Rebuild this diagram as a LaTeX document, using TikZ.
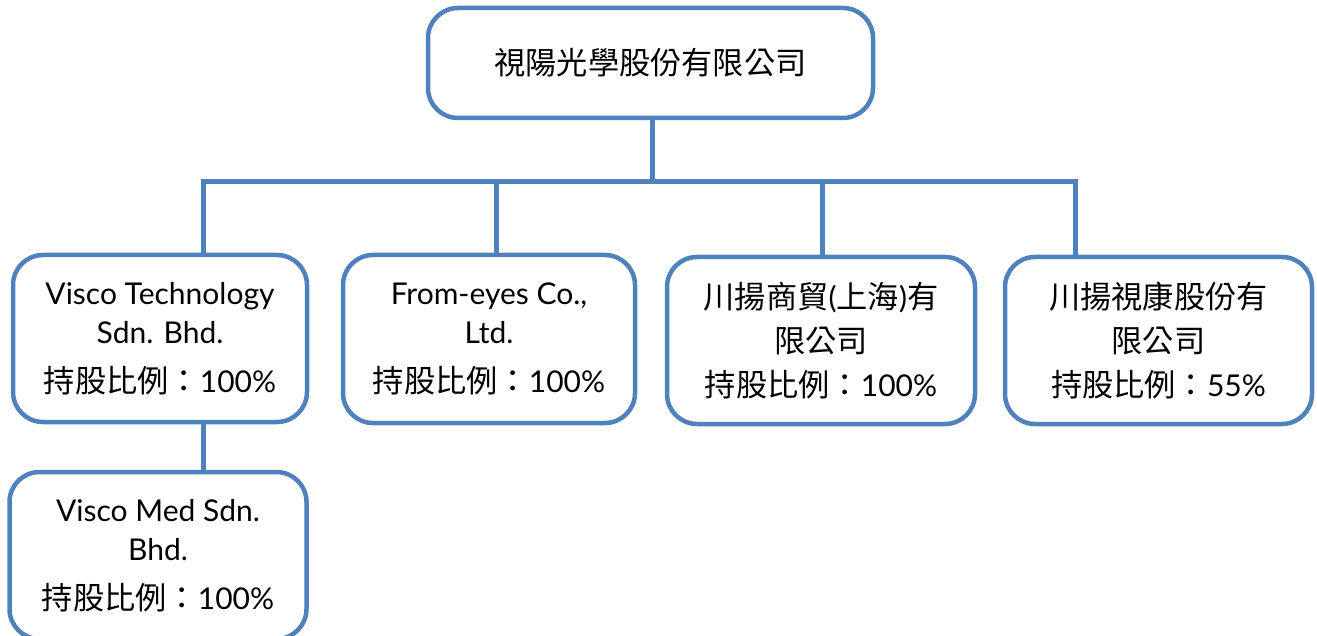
\documentclass[tikz,border=0pt]{standalone}
\usepackage{fontspec}
\setmainfont{Lato}
\newfontfamily\cjk{Noto Sans CJK TC}[Scale=1.04]
\usetikzlibrary{positioning}
\definecolor{orgblue}{RGB}{79,129,189}

\begin{document}
\begin{tikzpicture}[x=1pt,y=-1pt,
    company/.style={draw=orgblue,line width=4.5pt,rounded corners=30pt,fill=white,
      minimum width=294pt,minimum height=167pt,align=center,
      font=\fontsize{30}{39}\selectfont},
    link/.style={draw=orgblue,line width=5pt}]
    \useasboundingbox (0,0) rectangle (1317,636);
    \node (parent) at (650.5,63) [company,minimum width=445pt,minimum height=110pt] {\cjk 視陽光學股份有限公司};
    \node (visco) at (160,338.5) [company] {Visco Technology\\Sdn. Bhd.\\[10pt]{\cjk 持股比例：}100\%};
    \node (fromeyes) at (489,339) [company,minimum width=292pt,minimum height=168pt] {From-eyes Co.,\\Ltd.\\[10pt]{\cjk 持股比例：}100\%};
    \node (chuanyang) at (821,340.5) [company,minimum width=308pt] {{\cjk 川揚商貿}({\cjk 上海}){\cjk 有}\\[5pt]{\cjk 限公司}\\[5pt]{\cjk 持股比例：}100\%};
    \node (kang) at (1158.5,340.5) [company,minimum width=307pt] {{\cjk 川揚視康股份有}\\[5pt]{\cjk 限公司}\\[5pt]{\cjk 持股比例：}55\%};
    \node (med) at (158,555.5) [company,minimum width=297pt] {Visco Med Sdn.\\Bhd.\\[10pt]{\cjk 持股比例：}100\%};
    % bus line under the parent company
    \coordinate (bus) at (652,182);
    \coordinate (d1) at (203,182);
    \coordinate (d2) at (496,182);
    \coordinate (d3) at (822,182);
    \coordinate (d4) at (1075,182);
    \path [link] (parent.south -| bus) -- (bus);
    \path [link] (d1 |- visco.north) -- (d1) -- (d4) -- (d4 |- kang.north);
    \path [link] (d2) -- (d2 |- fromeyes.north);
    \path [link] (d3) -- (d3 |- chuanyang.north);
    \path [link] (d1 |- visco.south) -- (d1 |- med.north);
\end{tikzpicture}
\end{document}
